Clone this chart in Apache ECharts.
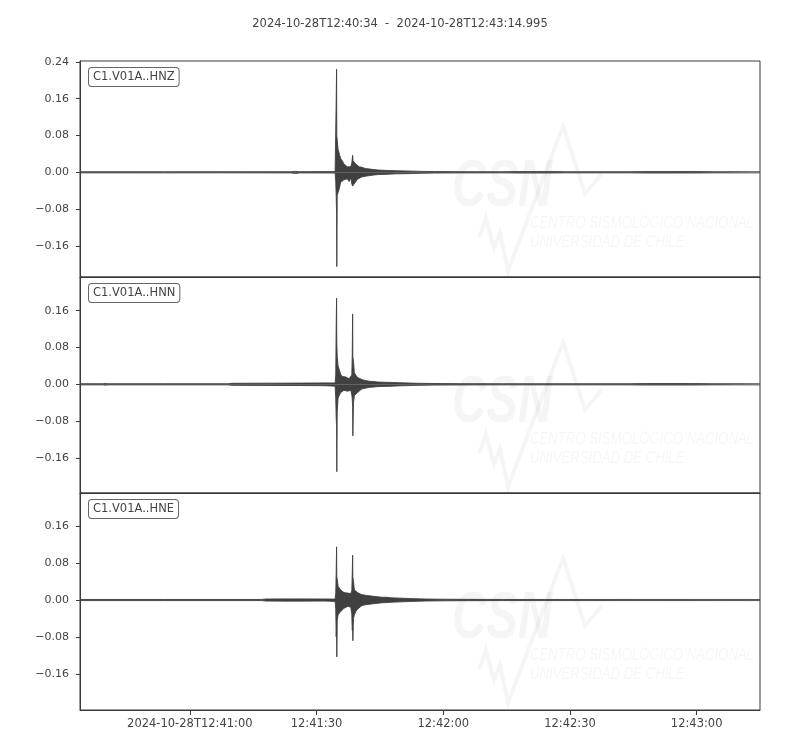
<!DOCTYPE html>
<html>
<head>
<meta charset="utf-8">
<script src="https://cdn.jsdelivr.net/npm/echarts@6.0.0/dist/echarts.min.js"></script>
<style>
html,body{margin:0;padding:0;background:#fff;}
#chart{width:800px;height:750px;}
</style>
</head>
<body>
<div id="chart"></div>
<script>
// ---------------- data ----------------
const startTime = '2024-10-28T12:40:34';
const endTime = '2024-10-28T12:43:14.995';
const titleText = '2024-10-28T12:40:34  -  2024-10-28T12:43:14.995';
const channels = ['C1.V01A..HNZ', 'C1.V01A..HNN', 'C1.V01A..HNE'];
const xTickLabels = ['12:41:00', '12:41:30', '12:42:00', '12:42:30', '12:43:00'];
const yTicks = [-0.16, -0.08, 0.00, 0.08, 0.16, 0.24];
const yMin = [-0.2276, -0.2363, -0.2378];
const yMax = [0.2420, 0.2333, 0.2314];

// Waveform envelope: [seconds after start, upper, lower]
const hnz = [
  [0,0.0012,-0.0012],[10,0.0012,-0.0012],[20,0.0011,-0.0012],[30,0.0012,-0.0011],[40,0.0012,-0.0012],
  [50,0.0012,-0.0013],[51,0.002,-0.0025],[52,0.0013,-0.0013],[60.4,0.0015,-0.0015],
  [60.55,0.004,-0.02],[60.65,0.153,-0.05],[60.75,0.224,-0.09],[60.8,0.08,-0.205],[60.9,0.07,-0.05],
  [61.1,0.05,-0.048],[61.4,0.04,-0.035],[61.7,0.03,-0.022],[62.1,0.025,-0.02],[62.5,0.018,-0.016],
  [62.9,0.014,-0.018],[63.3,0.012,-0.014],[63.7,0.013,-0.02],[64.1,0.012,-0.012],[64.35,0.02,-0.025],
  [64.55,0.037,-0.03],[64.65,0.025,-0.032],[64.95,0.025,-0.028],[65.3,0.018,-0.02],[65.7,0.015,-0.015],
  [66.1,0.012,-0.012],[66.7,0.011,-0.01],[67.3,0.009,-0.009],[67.9,0.008,-0.008],[68.7,0.007,-0.007],
  [69.5,0.006,-0.006],[70.5,0.005,-0.005],[71.5,0.0045,-0.0045],[73,0.004,-0.004],[75,0.0032,-0.0032],
  [77,0.003,-0.003],[79,0.0025,-0.0025],[81,0.002,-0.002],[84,0.0016,-0.0016],[90,0.0013,-0.0013],
  [100,0.0012,-0.0012],[104,0.0016,-0.0016],[112,0.0015,-0.0015],[115,0.0012,-0.0012],[130,0.0012,-0.0012],
  [134,0.0016,-0.0016],[146,0.0015,-0.0015],[150,0.0012,-0.0012],[160.995,0.0012,-0.0012]
];
const hnn = [
  [0,0.0012,-0.0012],[5.5,0.0012,-0.0012],[6,0.002,-0.002],[6.6,0.0012,-0.0012],[20,0.0012,-0.0012],
  [35,0.0012,-0.0012],[36,0.0022,-0.0022],[45,0.0025,-0.0025],[52,0.0026,-0.0026],[58,0.003,-0.003],
  [60.4,0.003,-0.004],[60.55,0.02,-0.03],[60.65,0.122,-0.073],[60.75,0.187,-0.09],[60.8,0.09,-0.19],
  [60.9,0.06,-0.06],[61.1,0.04,-0.03],[61.4,0.031,-0.027],[61.7,0.022,-0.018],[62.1,0.017,-0.016],
  [62.5,0.014,-0.013],[62.9,0.016,-0.012],[63.3,0.013,-0.015],[63.7,0.012,-0.014],[64.1,0.015,-0.013],
  [64.35,0.02,-0.023],[64.45,0.064,-0.03],[64.55,0.153,-0.05],[64.6,0.06,-0.112],[64.75,0.05,-0.04],
  [64.95,0.025,-0.025],[65.3,0.02,-0.023],[65.7,0.015,-0.018],[66.1,0.012,-0.014],[66.6,0.011,-0.011],
  [67.2,0.009,-0.009],[67.8,0.008,-0.008],[68.6,0.0065,-0.0065],[69.5,0.006,-0.006],[70.5,0.005,-0.005],
  [72,0.0045,-0.0045],[74,0.004,-0.004],[76,0.0032,-0.0032],[78,0.0027,-0.0027],[80,0.0022,-0.0022],
  [84,0.0017,-0.0017],[90,0.0014,-0.0014],[100,0.0012,-0.0012],[130,0.0012,-0.0012],[133,0.0016,-0.0016],
  [145,0.0016,-0.0016],[150,0.0012,-0.0012],[160.995,0.0012,-0.0012]
];
const hne = [
  [0,0.0012,-0.0012],[20,0.0012,-0.0012],[43,0.0012,-0.0012],[44,0.0022,-0.0022],[50,0.0024,-0.0024],
  [58,0.0022,-0.0022],[60.4,0.002,-0.003],[60.55,0.015,-0.02],[60.65,0.058,-0.079],[60.75,0.115,-0.06],
  [60.8,0.05,-0.123],[60.9,0.045,-0.045],[61.1,0.03,-0.032],[61.4,0.026,-0.028],[61.7,0.022,-0.025],
  [62.1,0.018,-0.022],[62.5,0.016,-0.018],[62.9,0.014,-0.015],[63.3,0.015,-0.014],[63.7,0.013,-0.016],
  [64.1,0.014,-0.015],[64.35,0.02,-0.03],[64.45,0.054,-0.065],[64.55,0.097,-0.06],[64.6,0.05,-0.088],
  [64.75,0.04,-0.04],[64.95,0.022,-0.032],[65.3,0.02,-0.025],[65.7,0.016,-0.02],[66.1,0.013,-0.017],
  [66.6,0.012,-0.013],[67.2,0.011,-0.011],[67.8,0.01,-0.01],[68.6,0.009,-0.009],[69.5,0.008,-0.008],
  [70.5,0.007,-0.007],[71.5,0.006,-0.006],[72.5,0.006,-0.0055],[73.5,0.005,-0.005],[74.5,0.0045,-0.0045],
  [76,0.004,-0.004],[78,0.0032,-0.0032],[80,0.0026,-0.0026],[82,0.0021,-0.0021],[86,0.0017,-0.0017],
  [92,0.0014,-0.0014],[100,0.0012,-0.0012],[160.995,0.0012,-0.0012]
];
const traces = [hnz, hnn, hne];

// ---------------- chart ----------------
const T0 = Date.parse(startTime + 'Z');
const T1 = Date.parse(endTime + 'Z');
const xTickMs = xTickLabels.map(s => Date.parse('2024-10-28T' + s + 'Z'));
const pad = n => String(n).padStart(2, '0');
function fmtX(v) {
  const d = new Date(v);
  const hms = pad(d.getUTCHours()) + ':' + pad(d.getUTCMinutes()) + ':' + pad(d.getUTCSeconds());
  if (Math.abs(v - xTickMs[0]) < 500) return '2024-10-28T' + hms;
  return hms;
}
function fmtY(v) {
  const s = Math.abs(v).toFixed(2);
  return (v < -1e-9 ? '\u2212' : '') + s;
}

const FONT = 'DejaVu Sans';
const TXT = '#444444';
const AX = '#3a3a3a';
const WAVE = '#404040';
const gridTops = [61, 277, 493];
const gridHeights = [216, 216, 217];

const grids = [], xAxes = [], yAxes = [], series = [], graphics = [];
for (let i = 0; i < 3; i++) {
  grids.push({left: 80, right: 40, top: gridTops[i], height: gridHeights[i],
    show: true, borderColor: AX, borderWidth: 1, backgroundColor: 'transparent'});
  const last = i === 2;
  xAxes.push({
    type: 'value', gridIndex: i, min: T0, max: T1, scale: true,
    axisLine: {show: true, onZero: false, lineStyle: {color: AX, width: 1}},
    axisTick: {show: last, length: 5, lineStyle: {color: AX}, customValues: xTickMs},
    axisLabel: {show: last, customValues: xTickMs, formatter: fmtX, color: TXT,
      fontFamily: FONT, fontSize: 11.5, margin: 8},
    splitLine: {show: false}
  });
  const ticks = yTicks.filter(v => v >= yMin[i] - 1e-9 && v <= yMax[i] + 1e-9);
  yAxes.push({
    type: 'value', gridIndex: i, min: yMin[i], max: yMax[i],
    axisLine: {show: true, onZero: false, lineStyle: {color: AX, width: 1}},
    axisTick: {show: true, length: 4, lineStyle: {color: AX}, customValues: ticks},
    axisLabel: {customValues: ticks, formatter: fmtY, color: TXT, fontFamily: FONT, fontSize: 11, margin: 11},
    splitLine: {show: false}
  });
  const env = traces[i];
  [1, 2].forEach(k => {
    series.push({
      type: 'line', xAxisIndex: i, yAxisIndex: i, showSymbol: false, sampling: 'none',
      data: env.map(p => [T0 + p[0] * 1000, p[k]]),
      lineStyle: {color: WAVE, width: 0.9},
      areaStyle: {color: WAVE, opacity: 1, origin: 0},
      z: 5, animation: false, silent: true
    });
  });

  const top = gridTops[i];
  const wm = 'rgba(0,0,0,0.04)';
  // watermark
  graphics.push({type: 'text', x: 452, y: top + 94, scaleX: 0.72, z: 1, silent: true,
    style: {text: 'CSN', fill: wm, font: 'italic bold 66px "Liberation Sans"'}});
  graphics.push({type: 'polyline', z: 1, silent: true,
    shape: {points: [[479, top + 177], [486, top + 157], [494, top + 187], [500, top + 172],
      [508, top + 210], [563, top + 65], [585, top + 133], [602, top + 112]]},
    style: {stroke: wm, lineWidth: 4, fill: null}});
  graphics.push({type: 'text', x: 530, y: top + 154, scaleX: 0.775, z: 1, silent: true,
    style: {text: 'CENTRO SISMOLÓGICO NACIONAL', fill: wm, font: 'italic 17px "Liberation Sans"'}});
  graphics.push({type: 'text', x: 530, y: top + 173, scaleX: 0.775, z: 1, silent: true,
    style: {text: 'UNIVERSIDAD DE CHILE', fill: wm, font: 'italic 17px "Liberation Sans"'}});
  // channel label
  graphics.push({type: 'text', x: 89, y: top + 7, z: 10, silent: true,
    style: {text: channels[i], fill: TXT, font: '11.5px "DejaVu Sans"',
      backgroundColor: '#ffffff', borderColor: '#666666', borderWidth: 1, borderRadius: 3,
      padding: [3, 4, 3, 4]}});
}

const chart = echarts.init(document.getElementById('chart'), null, {renderer: 'canvas'});
chart.setOption({
  animation: false,
  backgroundColor: '#ffffff',
  title: {text: titleText, left: 'center', top: 13,
    textStyle: {fontFamily: FONT, fontSize: 11.5, fontWeight: 'normal', color: TXT}},
  grid: grids, xAxis: xAxes, yAxis: yAxes, series: series, graphic: graphics
});
</script>
</body>
</html>
